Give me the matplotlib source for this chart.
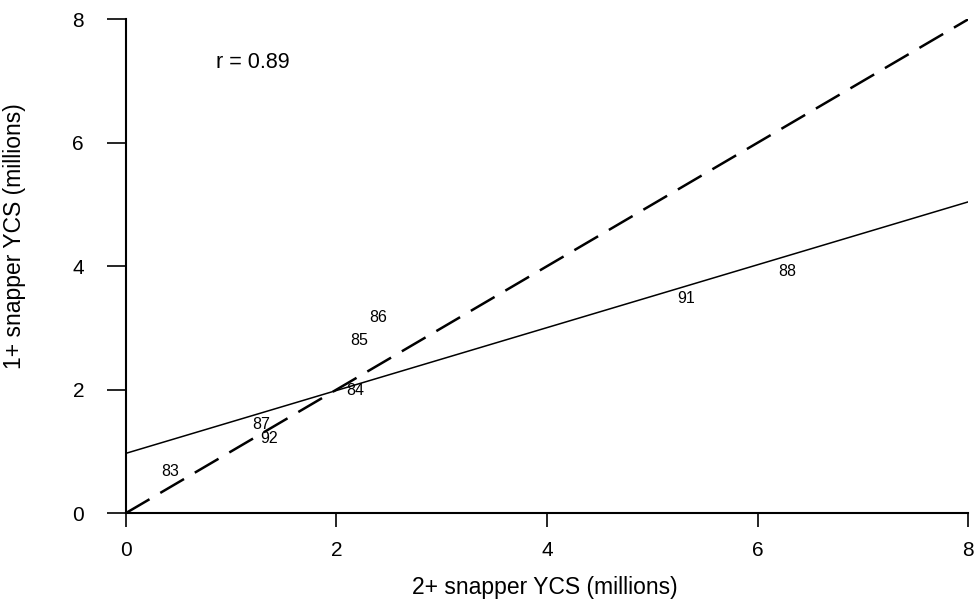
import numpy as np
import matplotlib
matplotlib.use("Agg")
import matplotlib.pyplot as plt

plt.rcParams["font.family"] = ["Liberation Sans", "DejaVu Sans"]

# Year-class strength estimates (millions), labelled by year class
years = ["83", "87", "92", "84", "85", "86", "91", "88"]
ycs_2plus = [0.42, 1.29, 1.36, 2.18, 2.22, 2.40, 5.32, 6.28]
ycs_1plus = [0.68, 1.44, 1.21, 1.99, 2.80, 3.17, 3.47, 3.92]

ticks = [0, 2, 4, 6, 8]
axis_max = 8

x = np.array(ycs_2plus)
y = np.array(ycs_1plus)
slope, intercept = np.polyfit(x, y, 1)
r = np.corrcoef(x, y)[0, 1]

fig = plt.figure(figsize=(9.75, 6.03), dpi=100)
ax = fig.add_axes([0.129, 0.149, 0.864, 0.819])

# year labels stand in for the points
for lab, xi, yi in zip(years, x, y):
    ax.text(xi, yi, lab, ha="center", va="center", fontsize=11.5)

# least-squares fit and the 1:1 line
xl = np.array([0, axis_max])
ax.plot(xl, intercept + slope * xl, color="black", lw=1.1)
ax.plot(xl, xl, color="black", lw=1.8, dashes=(11, 5))

ax.text(1.21, 7.3, f"r = {r:.2f}", fontsize=15.5, ha="center", va="center")

ax.set_xlim(0, axis_max)
ax.set_ylim(0, axis_max)
ax.set_xticks(ticks)
ax.set_yticks(ticks)
ax.tick_params(axis="both", direction="out", width=1.2, labelsize=15)
ax.tick_params(axis="x", length=10, pad=10)
ax.tick_params(axis="y", length=14, pad=16)
for side in ["top", "right"]:
    ax.spines[side].set_visible(False)
for side in ["left", "bottom"]:
    ax.spines[side].set_linewidth(1.5)

ax.set_xlabel("2+ snapper YCS (millions)", fontsize=16.5)
ax.set_ylabel("1+ snapper YCS (millions)", fontsize=16.5)
ax.xaxis.set_label_coords(0.498, -0.128)
ax.yaxis.set_label_coords(-0.118, 0.56)

fig.savefig("out.png", dpi=100)
